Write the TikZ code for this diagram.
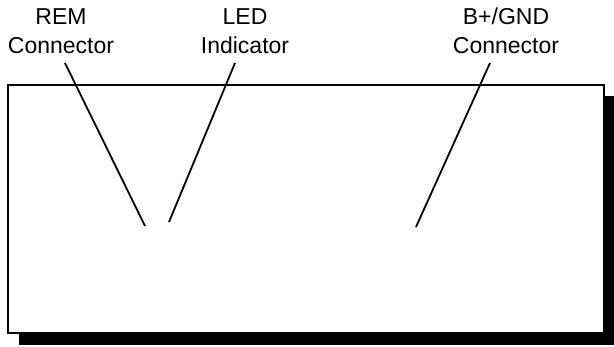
\documentclass[tikz,border=0pt]{standalone}
\usepackage{fontspec}
\setmainfont{Liberation Sans}
\begin{document}
\begin{tikzpicture}[x=1pt,y=1pt,
  lbl/.style={inner sep=0pt,anchor=base,font=\fontsize{23}{28}\selectfont},
  leader/.style={line width=1.8pt},
  box/.style={draw=black,line width=2pt,fill=white},
  shadowbox/.style={fill=black}]
\useasboundingbox (0,0) rectangle (614,346);
\begin{scope}
\clip (0,0) rectangle (614,346);
\fill[shadowbox] (19,1) rectangle (616,250);
\end{scope}
\draw[box] (8,13) rectangle (604,261);
% labels
\node[lbl] (rem1) at (61,321) {REM};
\node[lbl] (rem2) at (61,292) {Connector};
\node[lbl] (led1) at (245,321) {LED};
\node[lbl] (led2) at (245,292) {Indicator};
\node[lbl] (bg1) at (506,321) {B+/GND};
\node[lbl] (bg2) at (506,292) {Connector};
% leader lines
\coordinate (remA) at (65,283);
\coordinate (remB) at (145,120);
\coordinate (ledA) at (235,283);
\coordinate (ledB) at (169,124);
\coordinate (bgA) at (490,283);
\coordinate (bgB) at (416,119);
\draw[leader] (remA) -- (remB);
\draw[leader] (ledA) -- (ledB);
\draw[leader] (bgA) -- (bgB);
\end{tikzpicture}
\end{document}
